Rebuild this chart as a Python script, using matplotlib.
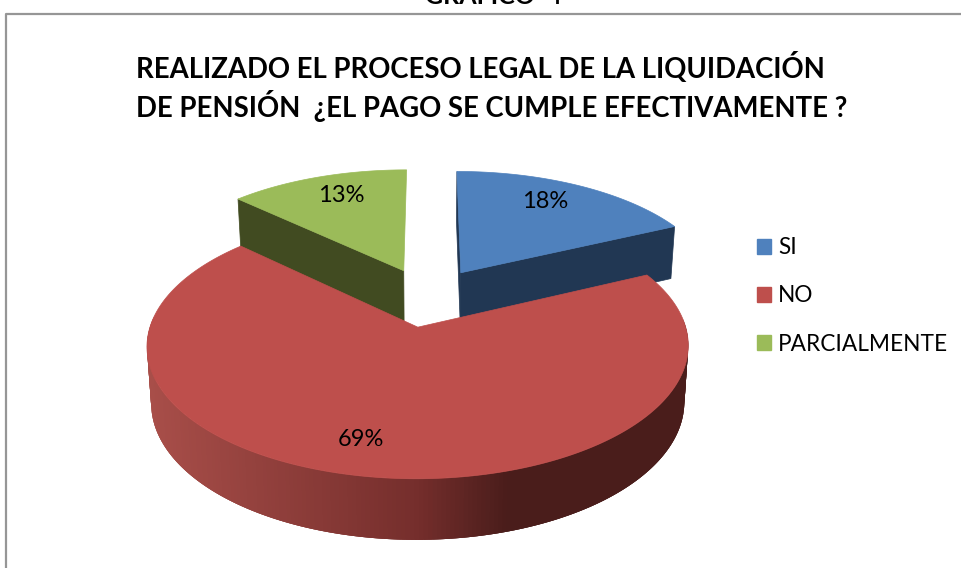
import numpy as np
import matplotlib
matplotlib.use('Agg')
import matplotlib.pyplot as plt
from matplotlib.patches import Patch
from matplotlib.colors import to_rgb

categorias = ['SI', 'NO', 'PARCIALMENTE']
valores = [18, 69, 13]
colores = ['#4F81BD', '#BE4F4C', '#9BBB59']
colores_lado = ['#213753', '#4A1D1B', '#414B21']
titulo = 'REALIZADO EL PROCESO LEGAL DE LA LIQUIDACIÓN\nDE PENSIÓN  ¿EL PAGO SE CUMPLE EFECTIVAMENTE ?'
caption = 'GRÁFICO  4'

plt.rcParams['font.family'] = ['Lato', 'DejaVu Sans']

# Perspective of the pie plane, in pixels of the output
xc, yc = 428, 297
A, B, k = 259, 121.5, 0.138
D, q = 54.8, 0.083
encoger = 0.985
explode = 0.243


def top(u, v):
    w = 1 + k * v
    return xc + A * u / w, yc - B * v / w


def bottom(u, v):
    x, y = top(u, v)
    return xc + (x - xc) * encoger, y + D / (1 + q * v)


fig = plt.figure(figsize=(9.61, 5.68), dpi=100)
ax = fig.add_axes([0, 0, 1, 1])
ax.set_xlim(0, 961)
ax.set_ylim(568, 0)
ax.axis('off')

# frame of the embedded chart
ax.plot([6, 6, 961], [568, 14, 14], color='#969696', lw=1.6)

fracs = np.array(valores) / sum(valores)
ends = np.cumsum(fracs) * 2 * np.pi
starts = ends - fracs * 2 * np.pi
mids = (starts + ends) / 2


def slice_geom(i):
    t = np.linspace(starts[i], ends[i], 300)
    cu, cv = explode * np.sin(mids[i]), explode * np.cos(mids[i])
    return t, cu, cv, cu + np.sin(t), cv + np.cos(t)


def wall(p, q_, color):
    # flat radial wall between apex p and rim point q_
    x1, y1 = top(*p)
    x2, y2 = top(*q_)
    x3, y3 = bottom(*q_)
    x4, y4 = bottom(*p)
    ax.fill([x1, x2, x3, x4], [y1, y2, y3, y4], color=color, lw=0.5, zorder=2)


def draw_top(i, z):
    t, cu, cv, u, v = slice_geom(i)
    x, y = top(np.r_[cu, u], np.r_[cv, v])
    ax.fill(x, y, color=colores[i], lw=0.5, zorder=z)


# green slice, back left
t, cu, cv, u, v = slice_geom(2)
wall((cu, cv), (u[0], v[0]), colores_lado[2])
draw_top(2, 3)

# blue slice, back right
t, cu, cv, u, v = slice_geom(0)
wall((cu, cv), (u[-1], v[-1]), colores_lado[0])
wall((cu, cv), (u[0], v[0]), colores_lado[0])
draw_top(0, 3)

# red slice, front: outer wall with shading left to right
t, cu, cv, u, v = slice_geom(1)
xt, yt = top(u, v)
xb, yb = bottom(u, v)
claro = np.array(to_rgb('#A84E49'))
medio = np.array(to_rgb('#752E2C'))
oscuro = np.array(to_rgb(colores_lado[1]))
visibles = [j for j in range(len(t) - 1) if v[j] <= 0.05 + cv or v[j + 1] <= 0.05 + cv]
# strips overlap a little so no seams show between them
for j in visibles:
    j2 = min(j + 3, len(t) - 1)
    xm = (xt[j] + xt[j + 1]) / 2
    if xm < 417:
        f = np.clip((xm - 150) / 267, 0, 1)
        c = claro + (medio - claro) * f
    else:
        f = np.clip((xm - 417) / 90, 0, 1)
        c = medio + (oscuro - medio) * f
    ax.fill([xt[j], xt[j2], xb[j2], xb[j]], [yt[j], yt[j2], yb[j2], yb[j]],
            color=c, lw=0, zorder=4)
draw_top(1, 5)

# percentage labels
pos_etiquetas = [(545, 201), (361, 440), (341, 195)]
for v_, (px, py) in zip(valores, pos_etiquetas):
    ax.text(px, py, f'{v_}%', fontsize=17, color='black', ha='center', va='center', zorder=6)

ax.text(136, 87, titulo, fontsize=19.8, fontweight='bold', color='black', ha='left',
        va='center', linespacing=1.25)
ax.text(493, -3, caption, fontsize=18, fontweight='bold', color='black', ha='center', va='center')

handles = [Patch(color=c, label=n) for c, n in zip(colores, categorias)]
ax.legend(handles=handles, loc='center left', bbox_to_anchor=(757 / 961, 1 - 296 / 568),
          frameon=False, fontsize=16.3, handlelength=0.62, handleheight=0.62,
          handletextpad=0.3, labelspacing=1.2, borderpad=0, borderaxespad=0)

fig.savefig('out.png', dpi=100)
